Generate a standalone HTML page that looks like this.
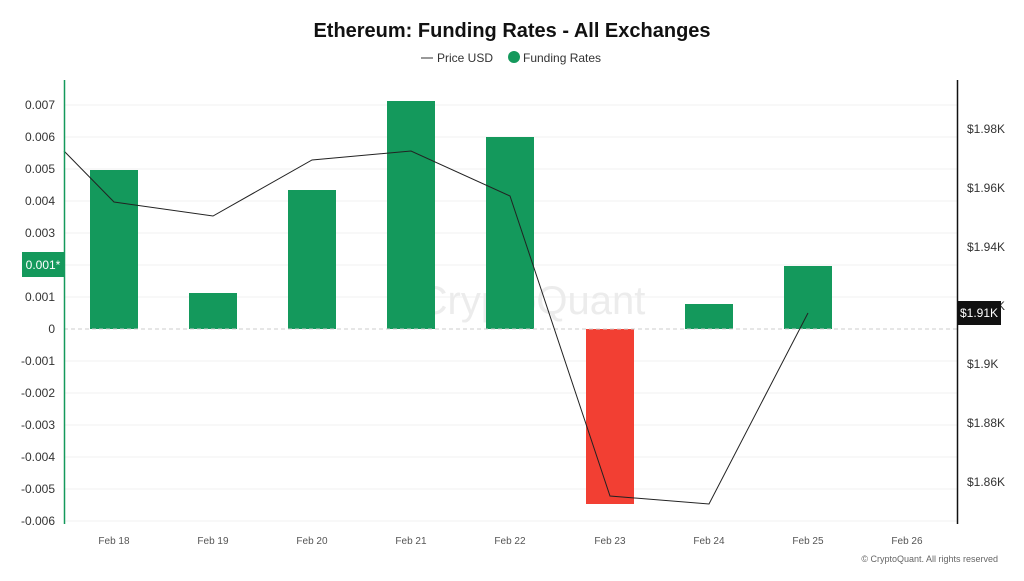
<!DOCTYPE html>
<html><head><meta charset="utf-8"><style>
body{margin:0;background:#fff;font-family:"Liberation Sans",sans-serif}
</style></head><body>
<svg width="1024" height="576" xmlns="http://www.w3.org/2000/svg" font-family="Liberation Sans, sans-serif">
<rect width="1024" height="576" fill="#fff"/>
<text x="512" y="37" text-anchor="middle" font-size="20" font-weight="bold" fill="#111">Ethereum: Funding Rates - All Exchanges</text>
<line x1="421" y1="58" x2="433" y2="58" stroke="#333" stroke-width="1"/>
<text x="437" y="62" font-size="12" fill="#333">Price USD</text>
<circle cx="514" cy="57" r="6" fill="#14995c"/>
<text x="523" y="62" font-size="12" fill="#333">Funding Rates</text>
<g stroke="#f2f2f2" stroke-width="1">
<line x1="64" y1="105" x2="957" y2="105"/><line x1="64" y1="137" x2="957" y2="137"/><line x1="64" y1="169" x2="957" y2="169"/><line x1="64" y1="201" x2="957" y2="201"/><line x1="64" y1="233" x2="957" y2="233"/><line x1="64" y1="265" x2="957" y2="265"/><line x1="64" y1="297" x2="957" y2="297"/><line x1="64" y1="361" x2="957" y2="361"/><line x1="64" y1="393" x2="957" y2="393"/><line x1="64" y1="425" x2="957" y2="425"/><line x1="64" y1="457" x2="957" y2="457"/><line x1="64" y1="489" x2="957" y2="489"/><line x1="64" y1="521" x2="957" y2="521"/>
</g>
<text x="532" y="314" text-anchor="middle" font-size="40" fill="#ececec">CryptoQuant</text>
<g fill="#14995c">
<rect x="90" y="170" width="48" height="159"/>
<rect x="189" y="293" width="48" height="36"/>
<rect x="288" y="190" width="48" height="139"/>
<rect x="387" y="101" width="48" height="228"/>
<rect x="486" y="137" width="48" height="192"/>
<rect x="685" y="304" width="48" height="25"/>
<rect x="784" y="266" width="48" height="63"/>
</g>
<rect x="586" y="329" width="48" height="175" fill="#f23f33"/>
<line x1="64" y1="329" x2="957" y2="329" stroke="#ccc" stroke-dasharray="4,3"/>
<polyline fill="none" stroke="#222" stroke-width="1" points="64,151 114,202 213,216 312,160 411,151 510,196 610,496 709,504 808,313"/>
<line x1="64.5" y1="80" x2="64.5" y2="524" stroke="#14995c" stroke-width="1.5"/>
<line x1="957.5" y1="80" x2="957.5" y2="524" stroke="#111" stroke-width="1.5"/>
<g font-size="12" fill="#333" text-anchor="end">
<text x="55" y="109">0.007</text><text x="55" y="141">0.006</text><text x="55" y="173">0.005</text><text x="55" y="205">0.004</text><text x="55" y="237">0.003</text><text x="55" y="301">0.001</text><text x="55" y="333">0</text><text x="55" y="365">-0.001</text><text x="55" y="397">-0.002</text><text x="55" y="429">-0.003</text><text x="55" y="461">-0.004</text><text x="55" y="493">-0.005</text><text x="55" y="525">-0.006</text>
</g>
<rect x="22" y="252" width="42" height="25" fill="#14995c"/>
<text x="43" y="269" font-size="12" fill="#fff" text-anchor="middle">0.001*</text>
<g font-size="12" fill="#333">
<text x="967" y="133">$1.98K</text><text x="967" y="192">$1.96K</text><text x="967" y="251">$1.94K</text><text x="967" y="310">$1.92K</text><text x="967" y="368">$1.9K</text><text x="967" y="427">$1.88K</text><text x="967" y="486">$1.86K</text>
</g>
<rect x="957" y="301" width="44" height="24" fill="#111"/>
<text x="979" y="317" font-size="12" fill="#fff" text-anchor="middle">$1.91K</text>
<g font-size="10" fill="#555" text-anchor="middle">
<text x="114" y="544">Feb 18</text><text x="213" y="544">Feb 19</text><text x="312" y="544">Feb 20</text><text x="411" y="544">Feb 21</text><text x="510" y="544">Feb 22</text><text x="610" y="544">Feb 23</text><text x="709" y="544">Feb 24</text><text x="808" y="544">Feb 25</text><text x="907" y="544">Feb 26</text>
</g>
<text x="998" y="562" font-size="9" fill="#666" text-anchor="end">© CryptoQuant. All rights reserved</text>
</svg>
</body></html>
